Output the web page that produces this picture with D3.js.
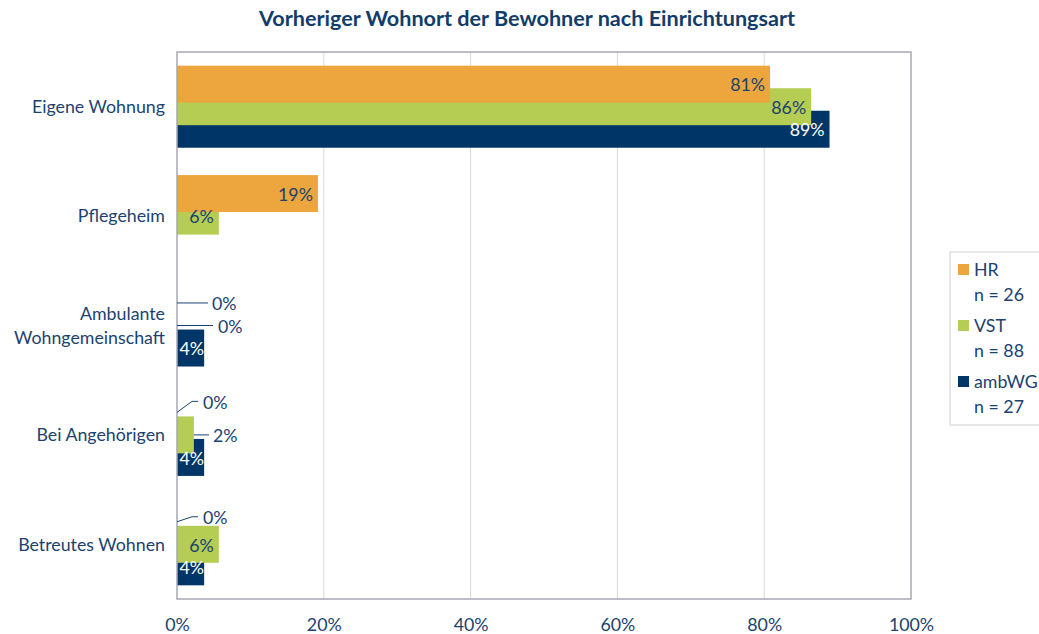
<!DOCTYPE html>
<html>
<head>
<meta charset="utf-8">
<script src="https://cdn.jsdelivr.net/npm/d3@7.9.0/dist/d3.min.js"></script>
<style>
  body { margin: 0; background: #fff; }
  svg text { font-family: Lato, "Noto Sans", sans-serif; }
</style>
</head>
<body>
<svg id="chart" width="1039" height="634"></svg>
<script>
// data (percent)
const categories = ['Eigene Wohnung', 'Pflegeheim', 'Ambulante\nWohngemeinschaft', 'Bei Angehörigen', 'Betreutes Wohnen'];
const seriesNames = ['HR', 'VST', 'ambWG'];
const seriesN = [26, 88, 27];
const hrValues = [80.8, 19.2, 0, 0, 0];
const vstValues = [86.4, 5.7, 0, 2.3, 5.7];
const ambwgValues = [88.9, 0, 3.7, 3.7, 3.7];
const xTicks = [0, 20, 40, 60, 80, 100];

const colors = ['#eda63d', '#b5cd52', '#003667'];
const textColor = '#1b4270';
const fs = 17.8;

// labels that sit outside the bar with a leader line: [series, category]
// points are offsets from (x(0), bar center)
const leaders = {
  '0-2': { line: [[0, 0], [31, 0]], text: [35, 1] },
  '1-2': { line: [[0, 0], [36, 0]], text: [41, 1] },
  '0-3': { line: [[0, 0], [15, -11], [21, -11]], text: [26, -10] },
  '1-3': { line: [[17, 0], [32, 0]], text: [36, 1] },
  '0-4': { line: [[0, 0], [15, -5], [21, -5]], text: [26, -4] }
};
const hidden = ['2-1'];

const margin = { left: 177, top: 52, right: 128, bottom: 35 };
const width = 1039 - margin.left - margin.right;
const height = 634 - margin.top - margin.bottom;

const svg = d3.select('#chart');

svg.append('text')
  .attr('x', 527).attr('y', 26)
  .attr('text-anchor', 'middle')
  .attr('font-weight', 'bold')
  .attr('font-size', 21.6)
  .attr('fill', '#123d6b')
  .text('Vorheriger Wohnort der Bewohner nach Einrichtungsart');

const g = svg.append('g').attr('transform', `translate(${margin.left},${margin.top})`);

const x = d3.scaleLinear().domain([0, 100]).range([0, width]);
const y = d3.scaleBand().domain(d3.range(categories.length)).range([0, height]);

// grid
g.selectAll('.grid').data(xTicks.slice(1, -1)).join('line')
  .attr('x1', d => x(d)).attr('x2', d => x(d))
  .attr('y1', 0).attr('y2', height)
  .attr('stroke', '#d9d9d9').attr('stroke-width', 1);

// bars: offset within band
const barH = y.bandwidth() * 0.338;
const step = y.bandwidth() * 0.206;
const series = [hrValues, vstValues, ambwgValues];
const barY = (s, c) => y(c) + y.bandwidth() / 2 + (s - 1) * step - barH / 2;

// draw last series first so HR sits on top
[2, 1, 0].forEach(s => {
  g.append('g').selectAll('rect').data(series[s]).join('rect')
    .attr('x', x(0))
    .attr('y', (d, c) => barY(s, c))
    .attr('width', d => x(d) - x(0))
    .attr('height', barH)
    .attr('fill', colors[s]);
});

// frame
g.append('rect')
  .attr('width', width).attr('height', height)
  .attr('fill', 'none').attr('stroke', '#a6a8b4').attr('stroke-width', 1.5);

// value labels
series.forEach((vals, s) => {
  vals.forEach((v, c) => {
    const key = `${s}-${c}`;
    if (hidden.includes(key)) return;
    const cy = barY(s, c) + barH / 2;
    const label = `${Math.round(v)}%`;
    if (leaders[key]) {
      const L = leaders[key];
      g.append('path')
        .attr('d', d3.line()(L.line.map(p => [x(0) + p[0], cy + p[1]])))
        .attr('fill', 'none').attr('stroke', textColor).attr('stroke-width', 1);
      g.append('text')
        .attr('x', x(0) + L.text[0]).attr('y', cy + L.text[1])
        .attr('dy', '0.35em')
        .attr('font-size', fs).attr('fill', textColor)
        .text(label);
    } else {
      g.append('text')
        .attr('x', Math.max(x(v) - 5, x(0) + 27)).attr('y', cy + 1)
        .attr('dy', '0.35em')
        .attr('text-anchor', 'end')
        .attr('font-size', fs)
        .attr('fill', s === 2 ? '#fff' : textColor)
        .text(label);
    }
  });
});

// category labels
categories.forEach((c, i) => {
  const lines = c.split('\n');
  const t = g.append('text')
    .attr('x', -12)
    .attr('y', y(i) + y.bandwidth() / 2 - (lines.length - 1) * 12)
    .attr('text-anchor', 'end')
    .attr('font-size', fs).attr('fill', textColor);
  lines.forEach((l, k) => {
    t.append('tspan').attr('x', -12).attr('dy', k === 0 ? '0.35em' : 24).text(l);
  });
});

// x axis labels
const xAxis = g.append('g').attr('transform', `translate(0,${height})`)
  .call(d3.axisBottom(x).tickValues(xTicks).tickFormat(d => d + '%').tickSize(0).tickPadding(19));
xAxis.select('.domain').remove();
xAxis.selectAll('text').attr('font-size', fs).attr('fill', textColor)
  .attr('font-family', 'Lato, "Noto Sans", sans-serif');

// legend
const legend = svg.append('g').attr('transform', 'translate(950,252)');
legend.append('rect')
  .attr('width', 100).attr('height', 173)
  .attr('fill', '#fff').attr('stroke', '#d0d0d0');
seriesNames.forEach((n, i) => {
  const gy = 18 + i * 56;
  legend.append('rect').attr('x', 8).attr('y', gy - 6).attr('width', 11).attr('height', 11).attr('fill', colors[i]);
  legend.append('text').attr('x', 24).attr('y', gy).attr('dy', '0.35em')
    .attr('font-size', fs).attr('fill', textColor).text(n);
  legend.append('text').attr('x', 24).attr('y', gy + 25).attr('dy', '0.35em')
    .attr('font-size', fs).attr('fill', textColor).text(`n = ${seriesN[i]}`);
});
</script>
</body>
</html>
